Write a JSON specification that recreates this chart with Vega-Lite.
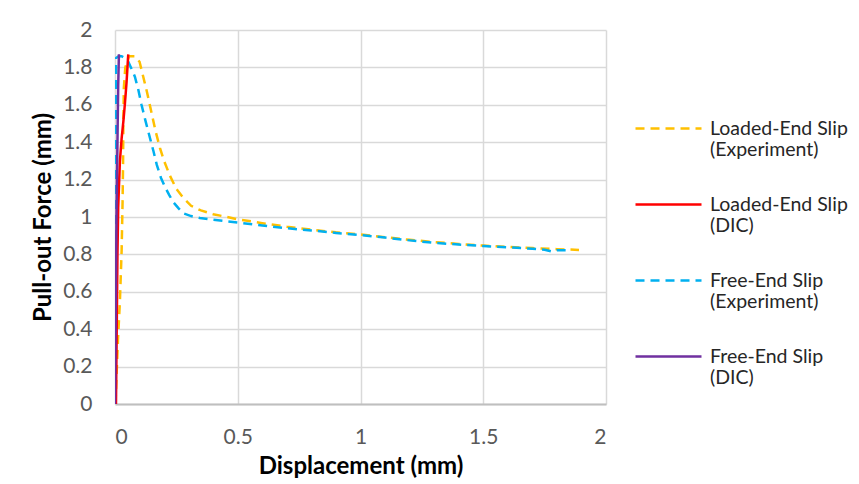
{
  "$schema": "https://vega.github.io/schema/vega-lite/v6.json",
  "width": 491,
  "height": 374,
  "autosize": {"type": "none"},
  "padding": {"left": 115, "top": 30, "right": 253, "bottom": 80},
  "background": "white",
  "config": {
    "view": {"stroke": null},
    "font": "Lato"
  },
  "data": {
    "values": [
      {"s": "Loaded-End Slip (Experiment)", "i": 0, "x": 0.002, "y": 0.0},
      {"s": "Loaded-End Slip (Experiment)", "i": 1, "x": 0.006, "y": 0.14},
      {"s": "Loaded-End Slip (Experiment)", "i": 2, "x": 0.012, "y": 0.34},
      {"s": "Loaded-End Slip (Experiment)", "i": 3, "x": 0.02, "y": 0.55},
      {"s": "Loaded-End Slip (Experiment)", "i": 4, "x": 0.027, "y": 0.82},
      {"s": "Loaded-End Slip (Experiment)", "i": 5, "x": 0.031, "y": 1.09},
      {"s": "Loaded-End Slip (Experiment)", "i": 6, "x": 0.033, "y": 1.3},
      {"s": "Loaded-End Slip (Experiment)", "i": 7, "x": 0.034, "y": 1.5},
      {"s": "Loaded-End Slip (Experiment)", "i": 8, "x": 0.036, "y": 1.69},
      {"s": "Loaded-End Slip (Experiment)", "i": 9, "x": 0.042, "y": 1.8},
      {"s": "Loaded-End Slip (Experiment)", "i": 10, "x": 0.057, "y": 1.86},
      {"s": "Loaded-End Slip (Experiment)", "i": 11, "x": 0.08, "y": 1.86},
      {"s": "Loaded-End Slip (Experiment)", "i": 12, "x": 0.1, "y": 1.83},
      {"s": "Loaded-End Slip (Experiment)", "i": 13, "x": 0.115, "y": 1.75},
      {"s": "Loaded-End Slip (Experiment)", "i": 14, "x": 0.13, "y": 1.67},
      {"s": "Loaded-End Slip (Experiment)", "i": 15, "x": 0.145, "y": 1.58},
      {"s": "Loaded-End Slip (Experiment)", "i": 16, "x": 0.165, "y": 1.46},
      {"s": "Loaded-End Slip (Experiment)", "i": 17, "x": 0.183, "y": 1.37},
      {"s": "Loaded-End Slip (Experiment)", "i": 18, "x": 0.2, "y": 1.3},
      {"s": "Loaded-End Slip (Experiment)", "i": 19, "x": 0.224, "y": 1.22},
      {"s": "Loaded-End Slip (Experiment)", "i": 20, "x": 0.25, "y": 1.15},
      {"s": "Loaded-End Slip (Experiment)", "i": 21, "x": 0.28, "y": 1.1},
      {"s": "Loaded-End Slip (Experiment)", "i": 22, "x": 0.31, "y": 1.06},
      {"s": "Loaded-End Slip (Experiment)", "i": 23, "x": 0.35, "y": 1.035},
      {"s": "Loaded-End Slip (Experiment)", "i": 24, "x": 0.4, "y": 1.015},
      {"s": "Loaded-End Slip (Experiment)", "i": 25, "x": 0.5, "y": 0.988},
      {"s": "Loaded-End Slip (Experiment)", "i": 26, "x": 0.6, "y": 0.967},
      {"s": "Loaded-End Slip (Experiment)", "i": 27, "x": 0.7, "y": 0.948},
      {"s": "Loaded-End Slip (Experiment)", "i": 28, "x": 0.8, "y": 0.932},
      {"s": "Loaded-End Slip (Experiment)", "i": 29, "x": 0.9, "y": 0.918},
      {"s": "Loaded-End Slip (Experiment)", "i": 30, "x": 1.0, "y": 0.907},
      {"s": "Loaded-End Slip (Experiment)", "i": 31, "x": 1.1, "y": 0.892},
      {"s": "Loaded-End Slip (Experiment)", "i": 32, "x": 1.2, "y": 0.878},
      {"s": "Loaded-End Slip (Experiment)", "i": 33, "x": 1.3, "y": 0.866},
      {"s": "Loaded-End Slip (Experiment)", "i": 34, "x": 1.4, "y": 0.856},
      {"s": "Loaded-End Slip (Experiment)", "i": 35, "x": 1.5, "y": 0.847},
      {"s": "Loaded-End Slip (Experiment)", "i": 36, "x": 1.6, "y": 0.84},
      {"s": "Loaded-End Slip (Experiment)", "i": 37, "x": 1.7, "y": 0.834},
      {"s": "Loaded-End Slip (Experiment)", "i": 38, "x": 1.8, "y": 0.828},
      {"s": "Loaded-End Slip (Experiment)", "i": 39, "x": 1.89, "y": 0.824},

      {"s": "Free-End Slip (Experiment)", "i": 0, "x": 0.0, "y": 0.0},
      {"s": "Free-End Slip (Experiment)", "i": 1, "x": 0.001, "y": 0.5},
      {"s": "Free-End Slip (Experiment)", "i": 2, "x": 0.002, "y": 1.0},
      {"s": "Free-End Slip (Experiment)", "i": 3, "x": 0.003, "y": 1.5},
      {"s": "Free-End Slip (Experiment)", "i": 4, "x": 0.004, "y": 1.85},
      {"s": "Free-End Slip (Experiment)", "i": 5, "x": 0.015, "y": 1.86},
      {"s": "Free-End Slip (Experiment)", "i": 6, "x": 0.027, "y": 1.86},
      {"s": "Free-End Slip (Experiment)", "i": 7, "x": 0.04, "y": 1.85},
      {"s": "Free-End Slip (Experiment)", "i": 8, "x": 0.054, "y": 1.83},
      {"s": "Free-End Slip (Experiment)", "i": 9, "x": 0.068, "y": 1.79},
      {"s": "Free-End Slip (Experiment)", "i": 10, "x": 0.081, "y": 1.75},
      {"s": "Free-End Slip (Experiment)", "i": 11, "x": 0.095, "y": 1.68},
      {"s": "Free-End Slip (Experiment)", "i": 12, "x": 0.108, "y": 1.6},
      {"s": "Free-End Slip (Experiment)", "i": 13, "x": 0.125, "y": 1.51},
      {"s": "Free-End Slip (Experiment)", "i": 14, "x": 0.143, "y": 1.42},
      {"s": "Free-End Slip (Experiment)", "i": 15, "x": 0.157, "y": 1.35},
      {"s": "Free-End Slip (Experiment)", "i": 16, "x": 0.17, "y": 1.28},
      {"s": "Free-End Slip (Experiment)", "i": 17, "x": 0.187, "y": 1.21},
      {"s": "Free-End Slip (Experiment)", "i": 18, "x": 0.204, "y": 1.16},
      {"s": "Free-End Slip (Experiment)", "i": 19, "x": 0.22, "y": 1.12},
      {"s": "Free-End Slip (Experiment)", "i": 20, "x": 0.237, "y": 1.08},
      {"s": "Free-End Slip (Experiment)", "i": 21, "x": 0.26, "y": 1.045},
      {"s": "Free-End Slip (Experiment)", "i": 22, "x": 0.278, "y": 1.02},
      {"s": "Free-End Slip (Experiment)", "i": 23, "x": 0.31, "y": 1.005},
      {"s": "Free-End Slip (Experiment)", "i": 24, "x": 0.346, "y": 0.995},
      {"s": "Free-End Slip (Experiment)", "i": 25, "x": 0.4, "y": 0.985},
      {"s": "Free-End Slip (Experiment)", "i": 26, "x": 0.5, "y": 0.97},
      {"s": "Free-End Slip (Experiment)", "i": 27, "x": 0.6, "y": 0.955},
      {"s": "Free-End Slip (Experiment)", "i": 28, "x": 0.7, "y": 0.94},
      {"s": "Free-End Slip (Experiment)", "i": 29, "x": 0.8, "y": 0.928},
      {"s": "Free-End Slip (Experiment)", "i": 30, "x": 0.9, "y": 0.915},
      {"s": "Free-End Slip (Experiment)", "i": 31, "x": 1.0, "y": 0.904},
      {"s": "Free-End Slip (Experiment)", "i": 32, "x": 1.1, "y": 0.89},
      {"s": "Free-End Slip (Experiment)", "i": 33, "x": 1.2, "y": 0.875},
      {"s": "Free-End Slip (Experiment)", "i": 34, "x": 1.3, "y": 0.862},
      {"s": "Free-End Slip (Experiment)", "i": 35, "x": 1.4, "y": 0.853},
      {"s": "Free-End Slip (Experiment)", "i": 36, "x": 1.5, "y": 0.845},
      {"s": "Free-End Slip (Experiment)", "i": 37, "x": 1.6, "y": 0.838},
      {"s": "Free-End Slip (Experiment)", "i": 38, "x": 1.7, "y": 0.83},
      {"s": "Free-End Slip (Experiment)", "i": 39, "x": 1.75, "y": 0.825},
      {"s": "Free-End Slip (Experiment)", "i": 40, "x": 1.78, "y": 0.815},
      {"s": "Free-End Slip (Experiment)", "i": 41, "x": 1.8, "y": 0.822},
      {"s": "Free-End Slip (Experiment)", "i": 42, "x": 1.84, "y": 0.822},

      {"s": "Loaded-End Slip (DIC)", "i": 0, "x": 0.004, "y": 0.0},
      {"s": "Loaded-End Slip (DIC)", "i": 1, "x": 0.007, "y": 0.4},
      {"s": "Loaded-End Slip (DIC)", "i": 2, "x": 0.01, "y": 0.8},
      {"s": "Loaded-End Slip (DIC)", "i": 3, "x": 0.013, "y": 1.05},
      {"s": "Loaded-End Slip (DIC)", "i": 4, "x": 0.02, "y": 1.3},
      {"s": "Loaded-End Slip (DIC)", "i": 5, "x": 0.027, "y": 1.42},
      {"s": "Loaded-End Slip (DIC)", "i": 6, "x": 0.034, "y": 1.51},
      {"s": "Loaded-End Slip (DIC)", "i": 7, "x": 0.04, "y": 1.6},
      {"s": "Loaded-End Slip (DIC)", "i": 8, "x": 0.047, "y": 1.72},
      {"s": "Loaded-End Slip (DIC)", "i": 9, "x": 0.054, "y": 1.87},

      {"s": "Free-End Slip (DIC)", "i": 0, "x": 0.0, "y": 0.0},
      {"s": "Free-End Slip (DIC)", "i": 1, "x": 0.003, "y": 0.5},
      {"s": "Free-End Slip (DIC)", "i": 2, "x": 0.006, "y": 1.0},
      {"s": "Free-End Slip (DIC)", "i": 3, "x": 0.01, "y": 1.4},
      {"s": "Free-End Slip (DIC)", "i": 4, "x": 0.013, "y": 1.7},
      {"s": "Free-End Slip (DIC)", "i": 5, "x": 0.016, "y": 1.87}
    ]
  },
  "mark": {"type": "line", "strokeWidth": 2.5, "clip": true},
  "encoding": {
    "x": {
      "field": "x", "type": "quantitative",
      "scale": {"domain": [0, 2], "nice": false},
      "axis": {
        "title": "Displacement (mm)",
        "values": [0, 0.5, 1, 1.5, 2],
        "format": ".1~f",
        "grid": true, "gridColor": "#d9d9d9", "gridWidth": 1.5,
        "domain": true, "domainColor": "#bfbfbf", "domainWidth": 2,
        "ticks": false,
        "labelFont": "Lato", "labelFontSize": 21, "labelColor": "#595959", "labelPadding": 22,
        "titleFont": "Lato", "titleFontSize": 24, "titleFontWeight": "bold", "titleColor": "#000000", "titlePadding": 7
      }
    },
    "y": {
      "field": "y", "type": "quantitative",
      "scale": {"domain": [0, 2], "nice": false},
      "axis": {
        "title": "Pull-out Force (mm)",
        "values": [0, 0.2, 0.4, 0.6, 0.8, 1, 1.2, 1.4, 1.6, 1.8, 2],
        "format": ".1~f",
        "grid": true, "gridColor": "#d9d9d9", "gridWidth": 1.5,
        "domain": false,
        "ticks": false,
        "labelFont": "Lato", "labelFontSize": 21, "labelColor": "#595959", "labelPadding": 23,
        "titleFont": "Lato", "titleFontSize": 24, "titleFontWeight": "bold", "titleColor": "#000000", "titlePadding": 7
      }
    },
    "color": {
      "field": "s", "type": "nominal",
      "scale": {
        "domain": ["Loaded-End Slip (Experiment)", "Loaded-End Slip (DIC)", "Free-End Slip (Experiment)", "Free-End Slip (DIC)"],
        "range": ["#FFC000", "#FF0000", "#00B0F0", "#7030A0"]
      },
      "legend": {
        "title": null,
        "orient": "none",
        "legendX": 519,
        "legendY": 70,
        "symbolType": "M-1,-0.18L1,-0.18",
        "symbolSize": 4356,
        "symbolStrokeWidth": 2.5,
        "labelFont": "Lato",
        "labelFontSize": 19.5,
        "labelColor": "#262626",
        "labelLimit": 0,
        "labelLineHeight": 25,
        "labelBaseline": "alphabetic",
        "labelOffset": 7,
        "rowPadding": 16,
        "labelExpr": "[slice(datum.label, 0, indexof(datum.label, ' (')), slice(datum.label, indexof(datum.label, ' (') + 1)]"
      }
    },
    "strokeDash": {
      "field": "s", "type": "nominal",
      "scale": {
        "domain": ["Loaded-End Slip (Experiment)", "Loaded-End Slip (DIC)", "Free-End Slip (Experiment)", "Free-End Slip (DIC)"],
        "range": [[9, 6], [1, 0], [9, 6], [1, 0]]
      },
      "legend": null
    },
    "order": {"field": "i", "type": "quantitative"}
  }
}
